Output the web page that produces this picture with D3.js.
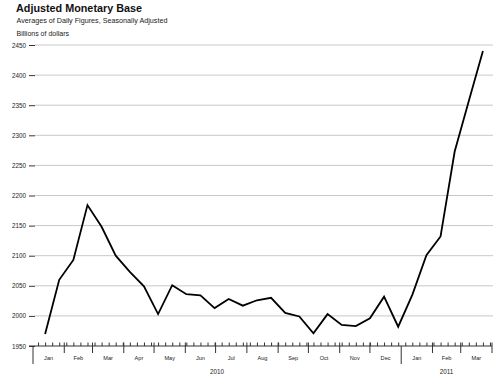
<!DOCTYPE html>
<html>
<head>
<meta charset="utf-8">
<script src="https://cdn.jsdelivr.net/npm/d3@7"></script>
<style>
  body { margin: 0; background: #fff; }
  svg { display: block; font-family: "Liberation Sans", Arial, sans-serif; }
</style>
</head>
<body>
<svg id="chart" width="500" height="380"></svg>
<script>
// ---- data ----
const dates = [
  "2010-01-13","2010-01-27","2010-02-10","2010-02-24","2010-03-10","2010-03-24",
  "2010-04-07","2010-04-21","2010-05-05","2010-05-19","2010-06-02","2010-06-16",
  "2010-06-30","2010-07-14","2010-07-28","2010-08-11","2010-08-25","2010-09-08",
  "2010-09-22","2010-10-06","2010-10-20","2010-11-03","2010-11-17","2010-12-01",
  "2010-12-15","2010-12-29","2011-01-12","2011-01-26","2011-02-09","2011-02-23",
  "2011-03-09","2011-03-23"
];
const values = [
  1970, 2060, 2093, 2184, 2148, 2100,
  2073, 2049, 2003, 2051, 2036, 2034,
  2013, 2028, 2017, 2026, 2030, 2005,
  1999, 1971, 2003, 1985, 1983, 1996,
  2032, 1982, 2035, 2101, 2132, 2273,
  2357, 2440
];
const yTicks = [1950, 2000, 2050, 2100, 2150, 2200, 2250, 2300, 2350, 2400, 2450];
const monthNames = ["Jan","Feb","Mar","Apr","May","Jun","Jul","Aug","Sep","Oct","Nov","Dec"];
const years = [2010, 2011];

const title = "Adjusted Monetary Base";
const subtitle = "Averages of Daily Figures, Seasonally Adjusted";
const unitLabel = "Billions of dollars";

// ---- setup ----
const parse = d3.timeParse("%Y-%m-%d");
const data = dates.map((d, i) => ({ date: parse(d), value: values[i] }));

const svg = d3.select("#chart");
const start = new Date(2010, 0, 1), end = new Date(2011, 3, 1);
const x = d3.scaleTime().domain([start, end]).range([33, 492]);
const y = d3.scaleLinear().domain([1950, 2450]).range([346, 45]);
const textColor = "#222";

// titles
svg.append("text").attr("x", 16).attr("y", 12)
  .attr("font-size", 10.8).attr("font-weight", "bold").attr("fill", "#111").text(title);
svg.append("text").attr("x", 16.5).attr("y", 22.5)
  .attr("font-size", 7.2).attr("fill", textColor).text(subtitle);
svg.append("text").attr("x", 16.5).attr("y", 36)
  .attr("font-size", 7).attr("fill", textColor).text(unitLabel);

// gridlines
svg.append("g").selectAll("line").data(yTicks.filter(t => t > 1950)).join("line")
  .attr("x1", 35).attr("x2", 493)
  .attr("y1", d => y(d)).attr("y2", d => y(d))
  .attr("stroke", "#c8c8c8").attr("stroke-width", 1);

// y axis
const yAxis = svg.append("g").attr("transform", "translate(35,0)")
  .call(d3.axisLeft(y).tickValues(yTicks).tickSize(6).tickPadding(3).tickFormat(d3.format("d")));
yAxis.select(".domain").remove();
yAxis.selectAll(".tick line").attr("stroke", "#333").attr("stroke-width", 1);
yAxis.selectAll(".tick text").attr("font-size", 6.3).attr("fill", textColor)
  .attr("font-family", "Liberation Sans, Arial, sans-serif");

// x axis baseline
const axisY = y(1950);
svg.append("line").attr("x1", 29).attr("x2", x(end))
  .attr("y1", axisY).attr("y2", axisY).attr("stroke", "#333").attr("stroke-width", 1);

// minor weekly ticks (upward)
const weeks = d3.timeWednesday.range(start, end);
const minor = svg.append("g").attr("transform", `translate(0,${axisY})`)
  .call(d3.axisBottom(x).tickValues(weeks).tickSize(-3.5).tickFormat(""));
minor.select(".domain").remove();
minor.selectAll(".tick line").attr("stroke", "#333");

// month ticks
const months = d3.timeMonth.range(start, d3.timeDay.offset(end, 1));
svg.append("g").selectAll("line")
  .data(months.filter(m => m.getMonth() !== 0))
  .join("line")
  .attr("x1", d => x(d)).attr("x2", d => x(d))
  .attr("y1", axisY - 3.5).attr("y2", axisY + 7)
  .attr("stroke", "#333").attr("stroke-width", 1);

// year ticks
const yearStarts = years.map(yr => new Date(yr, 0, 1));
svg.append("g").selectAll("line").data(yearStarts).join("line")
  .attr("x1", d => x(d)).attr("x2", d => x(d))
  .attr("y1", axisY).attr("y2", axisY + 18)
  .attr("stroke", "#333").attr("stroke-width", 1);

// month labels
const monthStarts = d3.timeMonth.range(start, end);
svg.append("g").selectAll("text").data(monthStarts).join("text")
  .attr("x", d => (x(d) + x(d3.timeMonth.offset(d, 1))) / 2)
  .attr("y", 360)
  .attr("text-anchor", "middle").attr("font-size", 5.6).attr("fill", textColor)
  .text(d => monthNames[d.getMonth()]);

// year labels
svg.append("g").selectAll("text").data(years).join("text")
  .attr("x", yr => {
    const a = Math.max(x(new Date(yr, 0, 1)), x(start));
    const b = Math.min(x(new Date(yr + 1, 0, 1)), x(end));
    return (a + b) / 2;
  })
  .attr("y", 374)
  .attr("text-anchor", "middle").attr("font-size", 6.3).attr("fill", textColor)
  .text(d => d);

// line
svg.append("path").datum(data)
  .attr("fill", "none").attr("stroke", "#000").attr("stroke-width", 1.8)
  .attr("stroke-linejoin", "miter")
  .attr("d", d3.line().x(d => x(d.date)).y(d => y(d.value)));
</script>
</body>
</html>
